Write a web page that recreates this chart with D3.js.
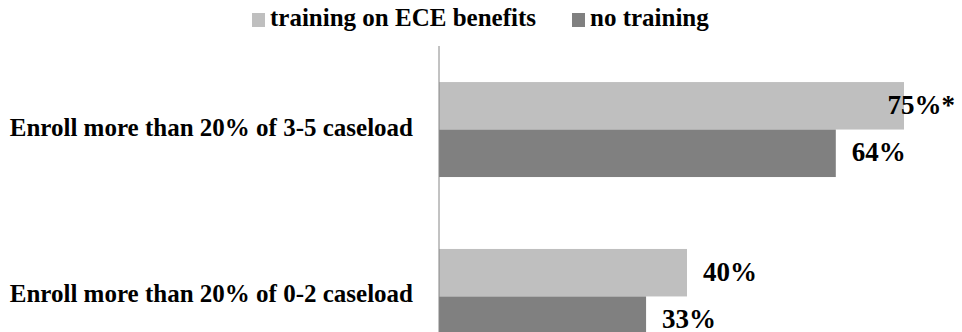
<!DOCTYPE html>
<html>
<head>
<meta charset="utf-8">
<script src="https://d3js.org/d3.v7.min.js"></script>
<style>
  body { margin: 0; background: #fff; overflow: hidden; }
  svg { display: block; font-family: "Liberation Serif", "Times New Roman", serif; font-weight: bold; }
</style>
</head>
<body>
<script>
// chart data
var categories = ["Enroll more than 20% of 3-5 caseload", "Enroll more than 20% of 0-2 caseload"];
var seriesNames = ["training on ECE benefits", "no training"];
var trainingValues = [75, 40];
var noTrainingValues = [64, 33.4];
var significant = [true, false]; // asterisk on the training label

var colors = { "training on ECE benefits": "#bfbfbf", "no training": "#808080" };

var width = 962, height = 332;
var axisX = 439;

var svg = d3.select("body").append("svg")
    .attr("width", width)
    .attr("height", height);

// scales
var xScale = d3.scaleLinear()
    .domain([0, 100])
    .range([axisX, axisX + 620]);

var yScale = d3.scaleBand()
    .domain(categories)
    .range([46, 380])
    .paddingInner(0.431)
    .paddingOuter(0.216);

var ySub = d3.scaleBand()
    .domain(seriesNames)
    .range([0, yScale.bandwidth()]);

var rows = categories.map(function (c, i) {
    return {
        category: c,
        bars: [
            { series: seriesNames[0], value: trainingValues[i], star: significant[i] },
            { series: seriesNames[1], value: noTrainingValues[i], star: false }
        ]
    };
});

// bars
var groups = svg.selectAll(".group")
    .data(rows)
    .enter().append("g")
    .attr("class", "group")
    .attr("transform", function (d) { return "translate(0," + yScale(d.category) + ")"; });

groups.selectAll("rect")
    .data(function (d) { return d.bars; })
    .enter().append("rect")
    .attr("x", xScale(0))
    .attr("y", function (d) { return ySub(d.series); })
    .attr("width", function (d) { return xScale(d.value) - xScale(0); })
    .attr("height", ySub.bandwidth())
    .attr("fill", function (d) { return colors[d.series]; });

// value labels, pulled back in when they would run off the right edge
groups.selectAll(".val")
    .data(function (d) { return d.bars; })
    .enter().append("text")
    .attr("class", "val")
    .attr("y", function (d) { return ySub(d.series) + ySub.bandwidth() / 2 + 8; })
    .attr("font-size", "27px")
    .attr("fill", "#000")
    .text(function (d) { return Math.round(d.value) + "%" + (d.star ? "*" : ""); })
    .attr("x", function (d) {
        var w = this.getComputedTextLength();
        return Math.min(xScale(d.value) + 16, width - 7 - w);
    });

// vertical axis line
svg.append("line")
    .attr("x1", axisX).attr("x2", axisX)
    .attr("y1", yScale.range()[0]).attr("y2", yScale.range()[1])
    .attr("stroke", "#868686")
    .attr("stroke-width", 1);

// category labels
svg.selectAll(".cat")
    .data(categories)
    .enter().append("text")
    .attr("class", "cat")
    .attr("x", axisX - 26)
    .attr("y", function (d) { return yScale(d) + yScale.bandwidth() / 2 + 6; })
    .attr("text-anchor", "end")
    .attr("font-size", "25px")
    .attr("fill", "#000")
    .text(function (d) { return d; });

// legend
var legendX = [252, 572];
var legend = svg.selectAll(".legend")
    .data(seriesNames)
    .enter().append("g")
    .attr("class", "legend")
    .attr("transform", function (d, i) { return "translate(" + legendX[i] + ",0)"; });

legend.append("rect")
    .attr("x", 0).attr("y", 13)
    .attr("width", 13).attr("height", 14)
    .attr("fill", function (d) { return colors[d]; });

legend.append("text")
    .attr("x", 18).attr("y", 26)
    .attr("font-size", "25px")
    .attr("fill", "#000")
    .text(function (d) { return d; });
</script>
</body>
</html>
